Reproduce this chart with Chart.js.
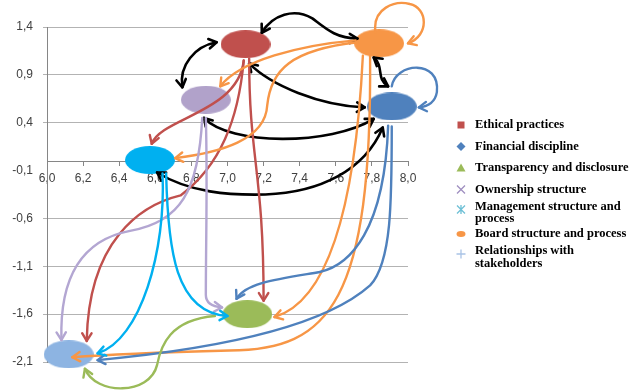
<!DOCTYPE html>
<html lang="en">
<head>
  <meta charset="UTF-8" />
  <title>Governance factors map</title>
  <style>
    html, body { margin: 0; padding: 0; background: #fff; }
    #wrap { position: relative; width: 632px; height: 392px; }
  </style>
</head>
<body>
  <div id="wrap"><canvas id="chart" width="632" height="392"></canvas></div>

  <script src="https://cdn.jsdelivr.net/npm/chart.js"></script>
  <script>
    // Factors (one point each).
    const seriesNames = [
      'Ethical practices',
      'Financial discipline',
      'Transparency and disclosure',
      'Ownership structure',
      'Management structure and\nprocess',
      'Board structure and process',
      'Relationships with\nstakeholders'
    ];
    const seriesX = [7.10, 7.91, 7.11, 6.88, 6.57, 7.84, 6.12];
    const seriesY = [1.22, 0.57, -1.60, 0.64, 0.01, 1.23, -2.02];

    const xTicks = [6.0, 6.2, 6.4, 6.6, 6.8, 7.0, 7.2, 7.4, 7.6, 7.8, 8.0];
    const yTicks = [-2.1, -1.6, -1.1, -0.6, -0.1, 0.4, 0.9, 1.4];

    // Influence links between factors (indexes into the series above).
    // path = start point followed by cubic bezier triples, in data units.
    // Two-way links are drawn black with a head at each end.
    const links = [
      { from: 0, to: 5, both: true, path: [[7.19, 1.34], [7.25, 1.53], [7.37, 1.60], [7.47, 1.49], [7.54, 1.39], [7.60, 1.28], [7.72, 1.28]] },
      { from: 0, to: 3, both: true, path: [[6.94, 1.24], [6.82, 1.20], [6.73, 1.00], [6.75, 0.77]] },
      { from: 0, to: 1, both: true, path: [[7.12, 1.02], [7.24, 0.79], [7.51, 0.58], [7.76, 0.56]] },
      { from: 5, to: 1, both: true, path: [[7.81, 1.08], [7.87, 0.99], [7.82, 0.86], [7.89, 0.78]] },
      { from: 3, to: 1, both: true, path: [[6.87, 0.45], [7.01, 0.16], [7.57, 0.16], [7.81, 0.44]] },
      { from: 4, to: 1, both: true, path: [[6.61, -0.12], [6.79, -0.33], [7.01, -0.36], [7.21, -0.35], [7.51, -0.33], [7.76, -0.10], [7.86, 0.35]] },
      { from: 0, to: 4, path: [[7.09, 1.05], [7.06, 0.51], [6.63, 0.45], [6.58, 0.18]] },
      { from: 0, to: 6, path: [[7.09, 1.05], [7.06, 0.43], [6.96, -0.05], [6.74, -0.36], [6.52, -0.46], [6.23, -0.83], [6.22, -1.88]] },
      { from: 0, to: 2, path: [[7.12, 1.07], [7.12, 0.01], [7.20, -0.10], [7.20, -1.46]] },
      { from: 5, to: 5, path: [[7.82, 1.34], [7.80, 1.60], [7.93, 1.68], [8.01, 1.64], [8.11, 1.60], [8.12, 1.31], [8.00, 1.23]] },
      { from: 5, to: 3, path: [[7.71, 1.26], [7.40, 1.21], [7.07, 1.05], [6.96, 0.78]] },
      { from: 5, to: 4, path: [[7.72, 1.24], [7.35, 1.16], [7.24, 0.95], [7.22, 0.58], [7.21, 0.22], [6.96, 0.09], [6.71, 0.03]] },
      { from: 5, to: 2, path: [[7.75, 1.10], [7.71, -0.41], [7.57, -1.46], [7.26, -1.63]] },
      { from: 5, to: 6, path: [[7.79, 1.10], [7.80, -1.46], [7.57, -1.98], [7.01, -1.98], [6.63, -2.00], [6.35, -2.02], [6.14, -2.05]] },
      { from: 1, to: 1, path: [[7.91, 0.78], [7.93, 1.03], [8.18, 1.07], [8.16, 0.72], [8.15, 0.61], [8.11, 0.57], [8.06, 0.56]] },
      { from: 1, to: 2, path: [[7.89, 0.37], [7.87, -0.72], [7.68, -1.09], [7.51, -1.16], [7.29, -1.23], [7.10, -1.27], [7.05, -1.44]] },
      { from: 1, to: 6, path: [[7.91, 0.36], [7.91, -0.41], [7.91, -1.06], [7.79, -1.30], [7.51, -1.77], [6.85, -1.98], [6.28, -2.08]] },
      { from: 3, to: 6, path: [[6.86, 0.45], [6.84, -0.31], [6.74, -0.64], [6.46, -0.73], [6.18, -0.83], [6.07, -1.25], [6.08, -1.87]] },
      { from: 3, to: 2, path: [[6.88, 0.45], [6.89, -0.20], [6.88, -0.83], [6.88, -1.40], [6.88, -1.48], [6.91, -1.52], [6.97, -1.53]] },
      { from: 4, to: 6, path: [[6.64, -0.13], [6.66, -0.93], [6.52, -1.87], [6.28, -2.01]] },
      { from: 4, to: 2, path: [[6.66, -0.13], [6.67, -0.93], [6.71, -1.58], [7.00, -1.62]] },
      { from: 2, to: 6, path: [[6.93, -1.62], [6.68, -1.66], [6.63, -1.93], [6.61, -2.13], [6.57, -2.45], [6.27, -2.45], [6.21, -2.17]] }
    ];

    // Styling.
    const nodeColors = ['#C0504D', '#4F81BD', '#9BBB59', '#B1A2CA', '#00B0F0', '#F79646', '#8DB4E2'];
    const linkColors = ['#C0504D', '#4F81BD', '#9BBB59', '#B3A6D2', '#00B0F0', '#F79646', '#8DB4E2'];
    const legendMarkers = ['rect', 'rectRot', 'triangle', 'crossRot', 'star', 'oval', 'cross'];
    const legendColors = ['#C0504D', '#4F81BD', '#9BBB59', '#9F8FC0', '#6EC0D6', '#F79646', '#A9C3E6'];
    const axisFont = { family: '"Liberation Sans", Arial, sans-serif', size: 12 };
    const commaLabel = v => Number(v).toFixed(1).replace('.', ',');

    // Ellipse used as the point marker.
    const makeEllipse = (color) => {
      const c = document.createElement('canvas');
      c.width = 50;
      c.height = 28;
      const g = c.getContext('2d');
      g.fillStyle = color;
      g.beginPath();
      g.ellipse(25, 14, 25, 14, 0, 0, Math.PI * 2);
      g.fill();
      return c;
    };

    const drawHead = (ctx, from, tip) => {
      const a = Math.atan2(tip[1] - from[1], tip[0] - from[0]);
      const len = 9, spread = 0.55;
      ctx.beginPath();
      ctx.moveTo(tip[0] - len * Math.cos(a - spread), tip[1] - len * Math.sin(a - spread));
      ctx.lineTo(tip[0], tip[1]);
      ctx.lineTo(tip[0] - len * Math.cos(a + spread), tip[1] - len * Math.sin(a + spread));
      ctx.stroke();
    };

    // Draws the links through the chart's scales.
    const linkPlugin = {
      id: 'links',
      afterDatasetsDraw(chart) {
        const { ctx } = chart;
        const xs = chart.scales.x, ys = chart.scales.y;
        links.forEach(link => {
          const pts = link.path.map(([vx, vy]) => [xs.getPixelForValue(vx), ys.getPixelForValue(vy)]);
          ctx.save();
          ctx.strokeStyle = link.both ? '#000000' : linkColors[link.from];
          ctx.lineWidth = link.both ? 2.6 : 2.4;
          ctx.lineCap = 'round';
          ctx.lineJoin = 'round';
          ctx.beginPath();
          ctx.moveTo(pts[0][0], pts[0][1]);
          for (let i = 1; i + 2 < pts.length; i += 3) {
            ctx.bezierCurveTo(pts[i][0], pts[i][1], pts[i + 1][0], pts[i + 1][1], pts[i + 2][0], pts[i + 2][1]);
          }
          ctx.stroke();
          drawHead(ctx, pts[pts.length - 2], pts[pts.length - 1]);
          if (link.both) drawHead(ctx, pts[1], pts[0]);
          ctx.restore();
        });
      }
    };

    const drawMarker = (ctx, style, color, x, y) => {
      ctx.save();
      ctx.fillStyle = color;
      ctx.strokeStyle = color;
      ctx.lineWidth = 1.3;
      ctx.beginPath();
      if (style === 'rect') {
        ctx.fillRect(x - 3.5, y - 3.5, 7, 7);
      } else if (style === 'rectRot') {
        ctx.moveTo(x, y - 4.5); ctx.lineTo(x + 4.5, y); ctx.lineTo(x, y + 4.5); ctx.lineTo(x - 4.5, y);
        ctx.closePath(); ctx.fill();
      } else if (style === 'triangle') {
        ctx.moveTo(x, y - 4.5); ctx.lineTo(x + 4.5, y + 3.5); ctx.lineTo(x - 4.5, y + 3.5);
        ctx.closePath(); ctx.fill();
      } else if (style === 'crossRot') {
        ctx.moveTo(x - 4, y - 4); ctx.lineTo(x + 4, y + 4);
        ctx.moveTo(x + 4, y - 4); ctx.lineTo(x - 4, y + 4);
        ctx.stroke();
      } else if (style === 'star') {
        ctx.moveTo(x - 4, y - 4); ctx.lineTo(x + 4, y + 4);
        ctx.moveTo(x + 4, y - 4); ctx.lineTo(x - 4, y + 4);
        ctx.moveTo(x, y - 4.5); ctx.lineTo(x, y + 4.5);
        ctx.stroke();
      } else if (style === 'oval') {
        ctx.ellipse(x, y, 4.5, 3, 0, 0, Math.PI * 2);
        ctx.fill();
      } else if (style === 'cross') {
        ctx.moveTo(x - 4.5, y); ctx.lineTo(x + 4.5, y);
        ctx.moveTo(x, y - 4.5); ctx.lineTo(x, y + 4.5);
        ctx.stroke();
      }
      ctx.restore();
    };

    // Legend on the right, with wrapped entries like the original.
    const legendPlugin = {
      id: 'sideLegend',
      afterDraw(chart) {
        const { ctx } = chart;
        const markerX = chart.chartArea.right + 53;
        const textX = chart.chartArea.right + 67;
        let center = 125;
        ctx.save();
        ctx.font = 'bold 12.5px "Liberation Serif", "Times New Roman", serif';
        ctx.fillStyle = '#000000';
        ctx.textAlign = 'left';
        ctx.textBaseline = 'middle';
        seriesNames.forEach((name, i) => {
          const lines = name.split('\n');
          if (i > 0) center += 21.5 + 1.5 * (lines.length - 1);
          const firstY = center - 6 * (lines.length - 1);
          lines.forEach((line, k) => ctx.fillText(line, textX, firstY + k * 12.5));
          drawMarker(ctx, legendMarkers[i], legendColors[i], markerX, lines.length > 1 ? firstY + 3 : center);
        });
        ctx.restore();
      }
    };

    new Chart(document.getElementById('chart'), {
      type: 'scatter',
      data: {
        datasets: seriesNames.map((name, i) => ({
          label: name.replace('\n', ' '),
          data: [{ x: seriesX[i], y: seriesY[i] }],
          pointStyle: makeEllipse(nodeColors[i]),
          clip: false
        }))
      },
      options: {
        responsive: false,
        animation: false,
        events: [],
        layout: { padding: { left: 0, right: 224, top: 27, bottom: 30 } },
        plugins: { legend: { display: false }, tooltip: { enabled: false } },
        scales: {
          x: {
            type: 'linear',
            position: { y: 0 },
            min: 6,
            max: 8,
            afterBuildTicks: s => { s.ticks = xTicks.map(v => ({ value: v })); },
            ticks: { callback: commaLabel, font: axisFont, color: '#404040', maxRotation: 0, autoSkip: false, padding: 6 },
            grid: { drawOnChartArea: false, tickLength: 4, color: '#868686' },
            border: { color: '#868686' }
          },
          y: {
            type: 'linear',
            min: -2.1,
            max: 1.4,
            afterBuildTicks: s => { s.ticks = yTicks.map(v => ({ value: v })); },
            afterFit: s => { s.width = 47; },
            ticks: { callback: commaLabel, font: axisFont, color: '#404040', padding: 10 },
            grid: {
              tickLength: 4,
              color: c => (c.tick && Math.abs(c.tick.value + 0.1) < 1e-6) ? 'rgba(0,0,0,0)' : '#B3B3B3'
            },
            border: { color: '#868686' }
          }
        }
      },
      plugins: [linkPlugin, legendPlugin]
    });
  </script>
</body>
</html>
